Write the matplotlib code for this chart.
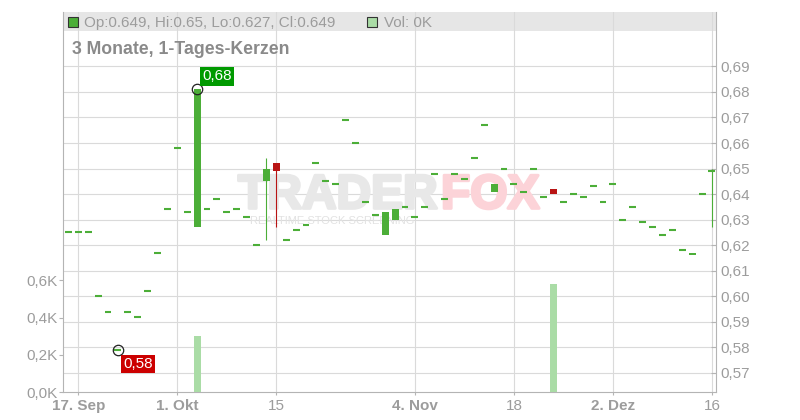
import numpy as np
import pandas as pd
import matplotlib
matplotlib.use('Agg')
from matplotlib import pyplot as plt
from matplotlib.patches import Rectangle
from matplotlib import patheffects as pe

plt.rcParams['font.family'] = ['Liberation Sans', 'DejaVu Sans']

# trading days shown in the chart (16 Sep .. 16 Dez 2024)
days = pd.bdate_range('2024-09-16', '2024-12-16')

opens = [0.625, 0.625, 0.625, 0.600, 0.594, 0.579, 0.594, 0.592, 0.602, 0.617,
         0.634, 0.658, 0.633, 0.627, 0.634, 0.638, 0.633, 0.634, 0.631, 0.620,
         0.645, 0.652, 0.622, 0.626, 0.628, 0.652, 0.645, 0.644, 0.669, 0.660,
         0.637, 0.632, 0.624, 0.630, 0.635, 0.631, 0.635, 0.648, 0.638, 0.648,
         0.646, 0.654, 0.667, 0.641, 0.650, 0.644, 0.641, 0.650, 0.639, 0.642,
         0.637, 0.640, 0.639, 0.643, 0.637, 0.644, 0.630, 0.635, 0.629, 0.627,
         0.624, 0.626, 0.618, 0.616, 0.640, 0.649]
highs = [0.625, 0.625, 0.625, 0.600, 0.594, 0.579, 0.594, 0.592, 0.602, 0.617,
         0.634, 0.658, 0.633, 0.681, 0.634, 0.638, 0.633, 0.634, 0.631, 0.620,
         0.654, 0.652, 0.622, 0.626, 0.628, 0.652, 0.645, 0.644, 0.669, 0.660,
         0.637, 0.632, 0.633, 0.634, 0.635, 0.631, 0.635, 0.648, 0.638, 0.648,
         0.646, 0.654, 0.667, 0.644, 0.650, 0.644, 0.641, 0.650, 0.639, 0.642,
         0.637, 0.640, 0.639, 0.643, 0.637, 0.644, 0.630, 0.635, 0.629, 0.627,
         0.624, 0.626, 0.618, 0.617, 0.640, 0.650]
lows = [0.625, 0.625, 0.625, 0.600, 0.594, 0.579, 0.594, 0.592, 0.602, 0.617,
        0.634, 0.658, 0.633, 0.627, 0.634, 0.638, 0.633, 0.634, 0.631, 0.620,
        0.622, 0.627, 0.622, 0.626, 0.628, 0.652, 0.645, 0.644, 0.669, 0.660,
        0.637, 0.632, 0.624, 0.630, 0.635, 0.631, 0.635, 0.648, 0.638, 0.648,
        0.646, 0.654, 0.667, 0.641, 0.650, 0.644, 0.641, 0.650, 0.639, 0.640,
        0.637, 0.640, 0.639, 0.643, 0.637, 0.644, 0.630, 0.635, 0.629, 0.627,
        0.624, 0.626, 0.618, 0.616, 0.640, 0.627]
closes = [0.625, 0.625, 0.625, 0.600, 0.594, 0.579, 0.594, 0.592, 0.602, 0.617,
          0.634, 0.658, 0.633, 0.681, 0.634, 0.638, 0.633, 0.634, 0.631, 0.620,
          0.650, 0.649, 0.622, 0.626, 0.628, 0.652, 0.645, 0.644, 0.669, 0.660,
          0.637, 0.632, 0.633, 0.634, 0.635, 0.631, 0.635, 0.648, 0.638, 0.648,
          0.646, 0.654, 0.667, 0.644, 0.650, 0.644, 0.641, 0.650, 0.639, 0.640,
          0.637, 0.640, 0.639, 0.643, 0.637, 0.644, 0.630, 0.635, 0.629, 0.627,
          0.624, 0.626, 0.618, 0.617, 0.640, 0.649]

vol_days = ['2024-10-03', '2024-11-22']
vol_values = [300, 580]

price_ticks = [0.57, 0.58, 0.59, 0.60, 0.61, 0.62, 0.63, 0.64, 0.65, 0.66, 0.67, 0.68, 0.69]
vol_ticks = [0, 200, 400, 600]
vol_labels = ['0,0K', '0,2K', '0,4K', '0,6K']
tick_days = ['2024-09-17', '2024-10-01', '2024-10-15', '2024-11-04',
             '2024-11-18', '2024-12-02', '2024-12-16']
tick_labels = ['17. Sep', '1. Okt', '15', '4. Nov', '18', '2. Dez', '16']
tick_bold = [True, True, False, True, False, True, False]

GREEN = '#4cae38'
RED = '#b81414'
VOLC = '#aadca6'
GRID = '#dadada'
TXT = '#9c9c9c'
AXC = '#b4b4b4'


def fx(px):
    return px / 800


def fy(py):
    return 1 - py / 420


fig = plt.figure(figsize=(8, 4.2), dpi=100)
ax = fig.add_axes([fx(63.3), fy(392.3), fx(716) - fx(63.3), fy(12) - fy(392.3)])
axv = ax.twinx()

x = np.arange(len(days))
pos = {d: i for i, d in enumerate(days)}

# candles
for i in x:
    o, h, l, c = opens[i], highs[i], lows[i], closes[i]
    col = RED if c < o else GREEN
    if h > max(o, c) or l < min(o, c):
        ax.vlines(i, l, h, color=col, lw=0.8, zorder=2)
    if abs(c - o) < 0.0005:
        ax.hlines(o, i - 0.35, i + 0.35, color=col, lw=1.5, zorder=3)
    else:
        ax.add_patch(Rectangle((i - 0.35, min(o, c)), 0.7, abs(c - o),
                               fc=col, ec='none', zorder=3))

# volume
vx = [pos[pd.Timestamp(d)] for d in vol_days]
axv.bar(vx, vol_values, width=0.7, color=VOLC, zorder=2)

# max / min flags
imax = int(np.argmax(highs))
imin = int(np.argmin(lows))
for i, v, dy, fc in [(imax, highs[imax], 13, '#009a00'), (imin, lows[imin], -14, '#cc0000')]:
    ax.plot(i, v, 'o', mfc='none', mec='#222222', ms=7.5, mew=0.9, zorder=6)
    ax.annotate(f'{v:.2f}'.replace('.', ','), (i, v), xytext=(20, dy),
                textcoords='offset pixels', ha='center', va='center',
                color='white', fontsize=11, zorder=7,
                bbox=dict(boxstyle='square,pad=0.15', fc=fc, ec='none'))

# limits and axes
ax.set_xlim(-0.515, 65.41)
ax.set_ylim(0.5624, 0.7113)
axv.set_ylim(0, 2034)

ax.yaxis.tick_right()
axv.yaxis.tick_left()
ax.set_yticks(price_ticks)
ax.set_yticklabels([f'{p:.2f}'.replace('.', ',') for p in price_ticks])
axv.set_yticks(vol_ticks)
axv.set_yticklabels(vol_labels)
ax.set_xticks([pos[pd.Timestamp(d)] for d in tick_days])
ax.set_xticklabels(tick_labels)
for lab, b in zip(ax.get_xticklabels(), tick_bold):
    lab.set_fontweight('bold' if b else 'normal')

ax.set_axisbelow(True)
ax.grid(True, color=GRID, lw=0.8)
ax.tick_params(axis='y', direction='in', length=3.6, color=AXC, labelcolor=TXT,
               labelsize=11, pad=3)
ax.tick_params(axis='x', direction='out', length=2.5, color=AXC, labelcolor=TXT,
               labelsize=11, pad=2)
axv.tick_params(axis='y', direction='out', length=3, color=AXC, labelcolor=TXT,
                labelsize=11, pad=1)

for s in ['top', 'left']:
    ax.spines[s].set_visible(False)
for s in ['right', 'bottom']:
    ax.spines[s].set_color(AXC)
for s in ['top', 'right', 'bottom']:
    axv.spines[s].set_visible(False)
axv.spines['left'].set_color(AXC)

# header band
ax.add_patch(Rectangle((0, 1 - 19 / 380.3), 1, 19 / 380.3, transform=ax.transAxes,
                       fc='#e6e6e6', ec='none', zorder=0.3))
ax.add_patch(Rectangle((fx(68), fy(27)), 10 / 800, 10 / 420, transform=fig.transFigure,
                       fc=GREEN, ec='#333333', lw=0.8, zorder=5, clip_on=False))
ax.text(fx(84), fy(27.3),
        f'Op:{opens[-1]:g}, Hi:{highs[-1]:g}, Lo:{lows[-1]:g}, Cl:{closes[-1]:g}',
        transform=fig.transFigure, fontsize=11, color=TXT, va='baseline', zorder=5)
ax.add_patch(Rectangle((fx(367), fy(27)), 10 / 800, 10 / 420, transform=fig.transFigure,
                       fc=VOLC, ec='#333333', lw=0.8, zorder=5, clip_on=False))
ax.text(fx(384), fy(27.3), 'Vol: 0K', transform=fig.transFigure, fontsize=11,
        color=TXT, va='baseline', zorder=5)
ax.text(fx(72.5), fy(54.3), '3 Monate, 1-Tages-Kerzen', transform=fig.transFigure,
        fontsize=12.7, fontweight='bold', color='#8a8a8a', va='baseline', zorder=5)

# watermark
ax.text(fx(238), fy(208.3), 'TRADER', transform=fig.transFigure, fontsize=34.5,
        fontweight='bold', color='#e8e8e8', va='baseline', zorder=1,
        path_effects=[pe.withStroke(linewidth=2.2, foreground='#e8e8e8')])
ax.text(fx(441), fy(208.3), 'FOX', transform=fig.transFigure, fontsize=34.5,
        fontweight='bold', color='#fcd3d8', va='baseline', zorder=1,
        path_effects=[pe.withStroke(linewidth=2.2, foreground='#fcd3d8')])
ax.text(fx(250), fy(224), 'REALTIME STOCK SCREENING', transform=fig.transFigure,
        fontsize=8, color='#e2e2e2', va='baseline', zorder=1)

fig.savefig('out.png', dpi=100)
